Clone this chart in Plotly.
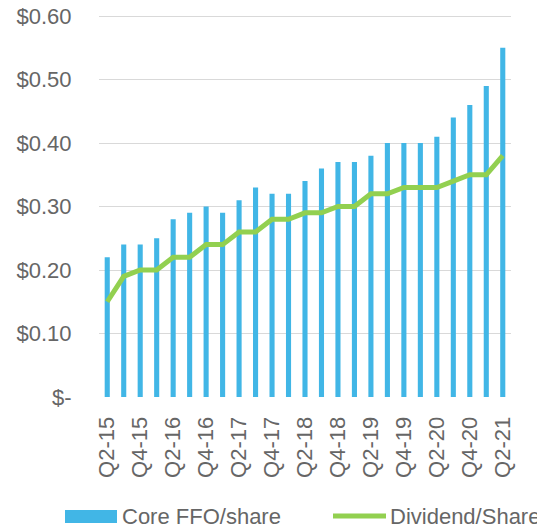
import plotly.graph_objects as go

quarters = ["Q2-15", "Q3-15", "Q4-15", "Q1-16", "Q2-16", "Q3-16", "Q4-16", "Q1-17",
            "Q2-17", "Q3-17", "Q4-17", "Q1-18", "Q2-18", "Q3-18", "Q4-18", "Q1-19",
            "Q2-19", "Q3-19", "Q4-19", "Q1-20", "Q2-20", "Q3-20", "Q4-20", "Q1-21", "Q2-21"]
core_ffo = [0.22, 0.24, 0.24, 0.25, 0.28, 0.29, 0.30, 0.29, 0.31, 0.33, 0.32, 0.32, 0.34,
            0.36, 0.37, 0.37, 0.38, 0.40, 0.40, 0.40, 0.41, 0.44, 0.46, 0.49, 0.55]
dividend = [0.15, 0.19, 0.20, 0.20, 0.22, 0.22, 0.24, 0.24, 0.26, 0.26, 0.28, 0.28, 0.29,
            0.29, 0.30, 0.30, 0.32, 0.32, 0.33, 0.33, 0.33, 0.34, 0.35, 0.35, 0.38]
y_ticks = [0, 0.1, 0.2, 0.3, 0.4, 0.5, 0.6]
y_labels = ["$-", "$0.10", "$0.20", "$0.30", "$0.40", "$0.50", "$0.60"]
x_ticks = quarters[::2]

BLUE = "#41B6E6"
GREEN = "#92D050"
GREY = "#666666"
FONT = "Arial, Liberation Sans, sans-serif"
FS = 22

# page body adds 8px, so the figure is a bit smaller than the window
W, H = 537, 522
L, R, T, B = 91, 34, 6, 133
pw, ph = W - L - R, H - T - B
OFF = 8
Y_TOP = 0.6032  # a hair above 0.60 so the top gridline is kept


def px(x):
    return (x - OFF - L) / pw


def py(y):
    return (H - B - (y - OFF)) / ph


fig = go.Figure()
fig.add_trace(go.Bar(x=quarters, y=core_ffo, marker=dict(color=BLUE, line=dict(width=0)),
                     width=0.31, name="Core FFO/share", showlegend=False))
fig.add_trace(go.Scatter(x=quarters, y=dividend, mode="lines", line=dict(color=GREEN, width=5),
                         name="Dividend/Share", showlegend=False))
# invisible trace so the right axis shows
fig.add_trace(go.Scatter(x=quarters, y=dividend, yaxis="y2", mode="lines",
                         line=dict(width=0), hoverinfo="skip", showlegend=False, opacity=0))

fig.update_layout(
    width=W, height=H,
    margin=dict(l=L, r=R, t=T, b=B, autoexpand=False),
    paper_bgcolor="white", plot_bgcolor="white",
    font=dict(family=FONT, size=FS, color=GREY),
    xaxis=dict(type="category", tickmode="array", tickvals=x_ticks, tickangle=-90,
               ticks="outside", ticklen=10, tickcolor="rgba(0,0,0,0)",
               showgrid=False, showline=False, zeroline=False, automargin=False,
               range=[-0.5, 24.5]),
    yaxis=dict(range=[0, Y_TOP], tickmode="array", tickvals=y_ticks, ticktext=y_labels,
               showgrid=True, gridcolor="#D9D9D9", gridwidth=1.3, zeroline=False,
               ticks="outside", ticklen=22, tickcolor="rgba(0,0,0,0)", automargin=False,
               ticklabeloverflow="allow"),
    yaxis2=dict(range=[0, Y_TOP], overlaying="y", side="right", tickmode="array",
                tickvals=y_ticks, ticktext=y_labels, showgrid=False, zeroline=False,
                ticks="outside", ticklen=24, tickcolor="rgba(0,0,0,0)", automargin=False,
                ticklabeloverflow="allow"),
    showlegend=False,
)

# legend drawn by hand to match the wide swatches
fig.add_shape(type="rect", xref="paper", yref="paper", x0=px(65), x1=px(117),
              y0=py(523), y1=py(510), fillcolor=BLUE, line=dict(width=0))
fig.add_shape(type="line", xref="paper", yref="paper", x0=px(333), x1=px(386),
              y0=py(516), y1=py(516), line=dict(color=GREEN, width=5))
fig.add_annotation(text="Core FFO/share", xref="paper", yref="paper", x=px(120), y=py(516),
                   xanchor="left", yanchor="middle", showarrow=False, font=dict(size=FS, color=GREY))
fig.add_annotation(text="Dividend/Share", xref="paper", yref="paper", x=px(388), y=py(516),
                   xanchor="left", yanchor="middle", showarrow=False, font=dict(size=FS, color=GREY))

fig.write_html("out.html")
